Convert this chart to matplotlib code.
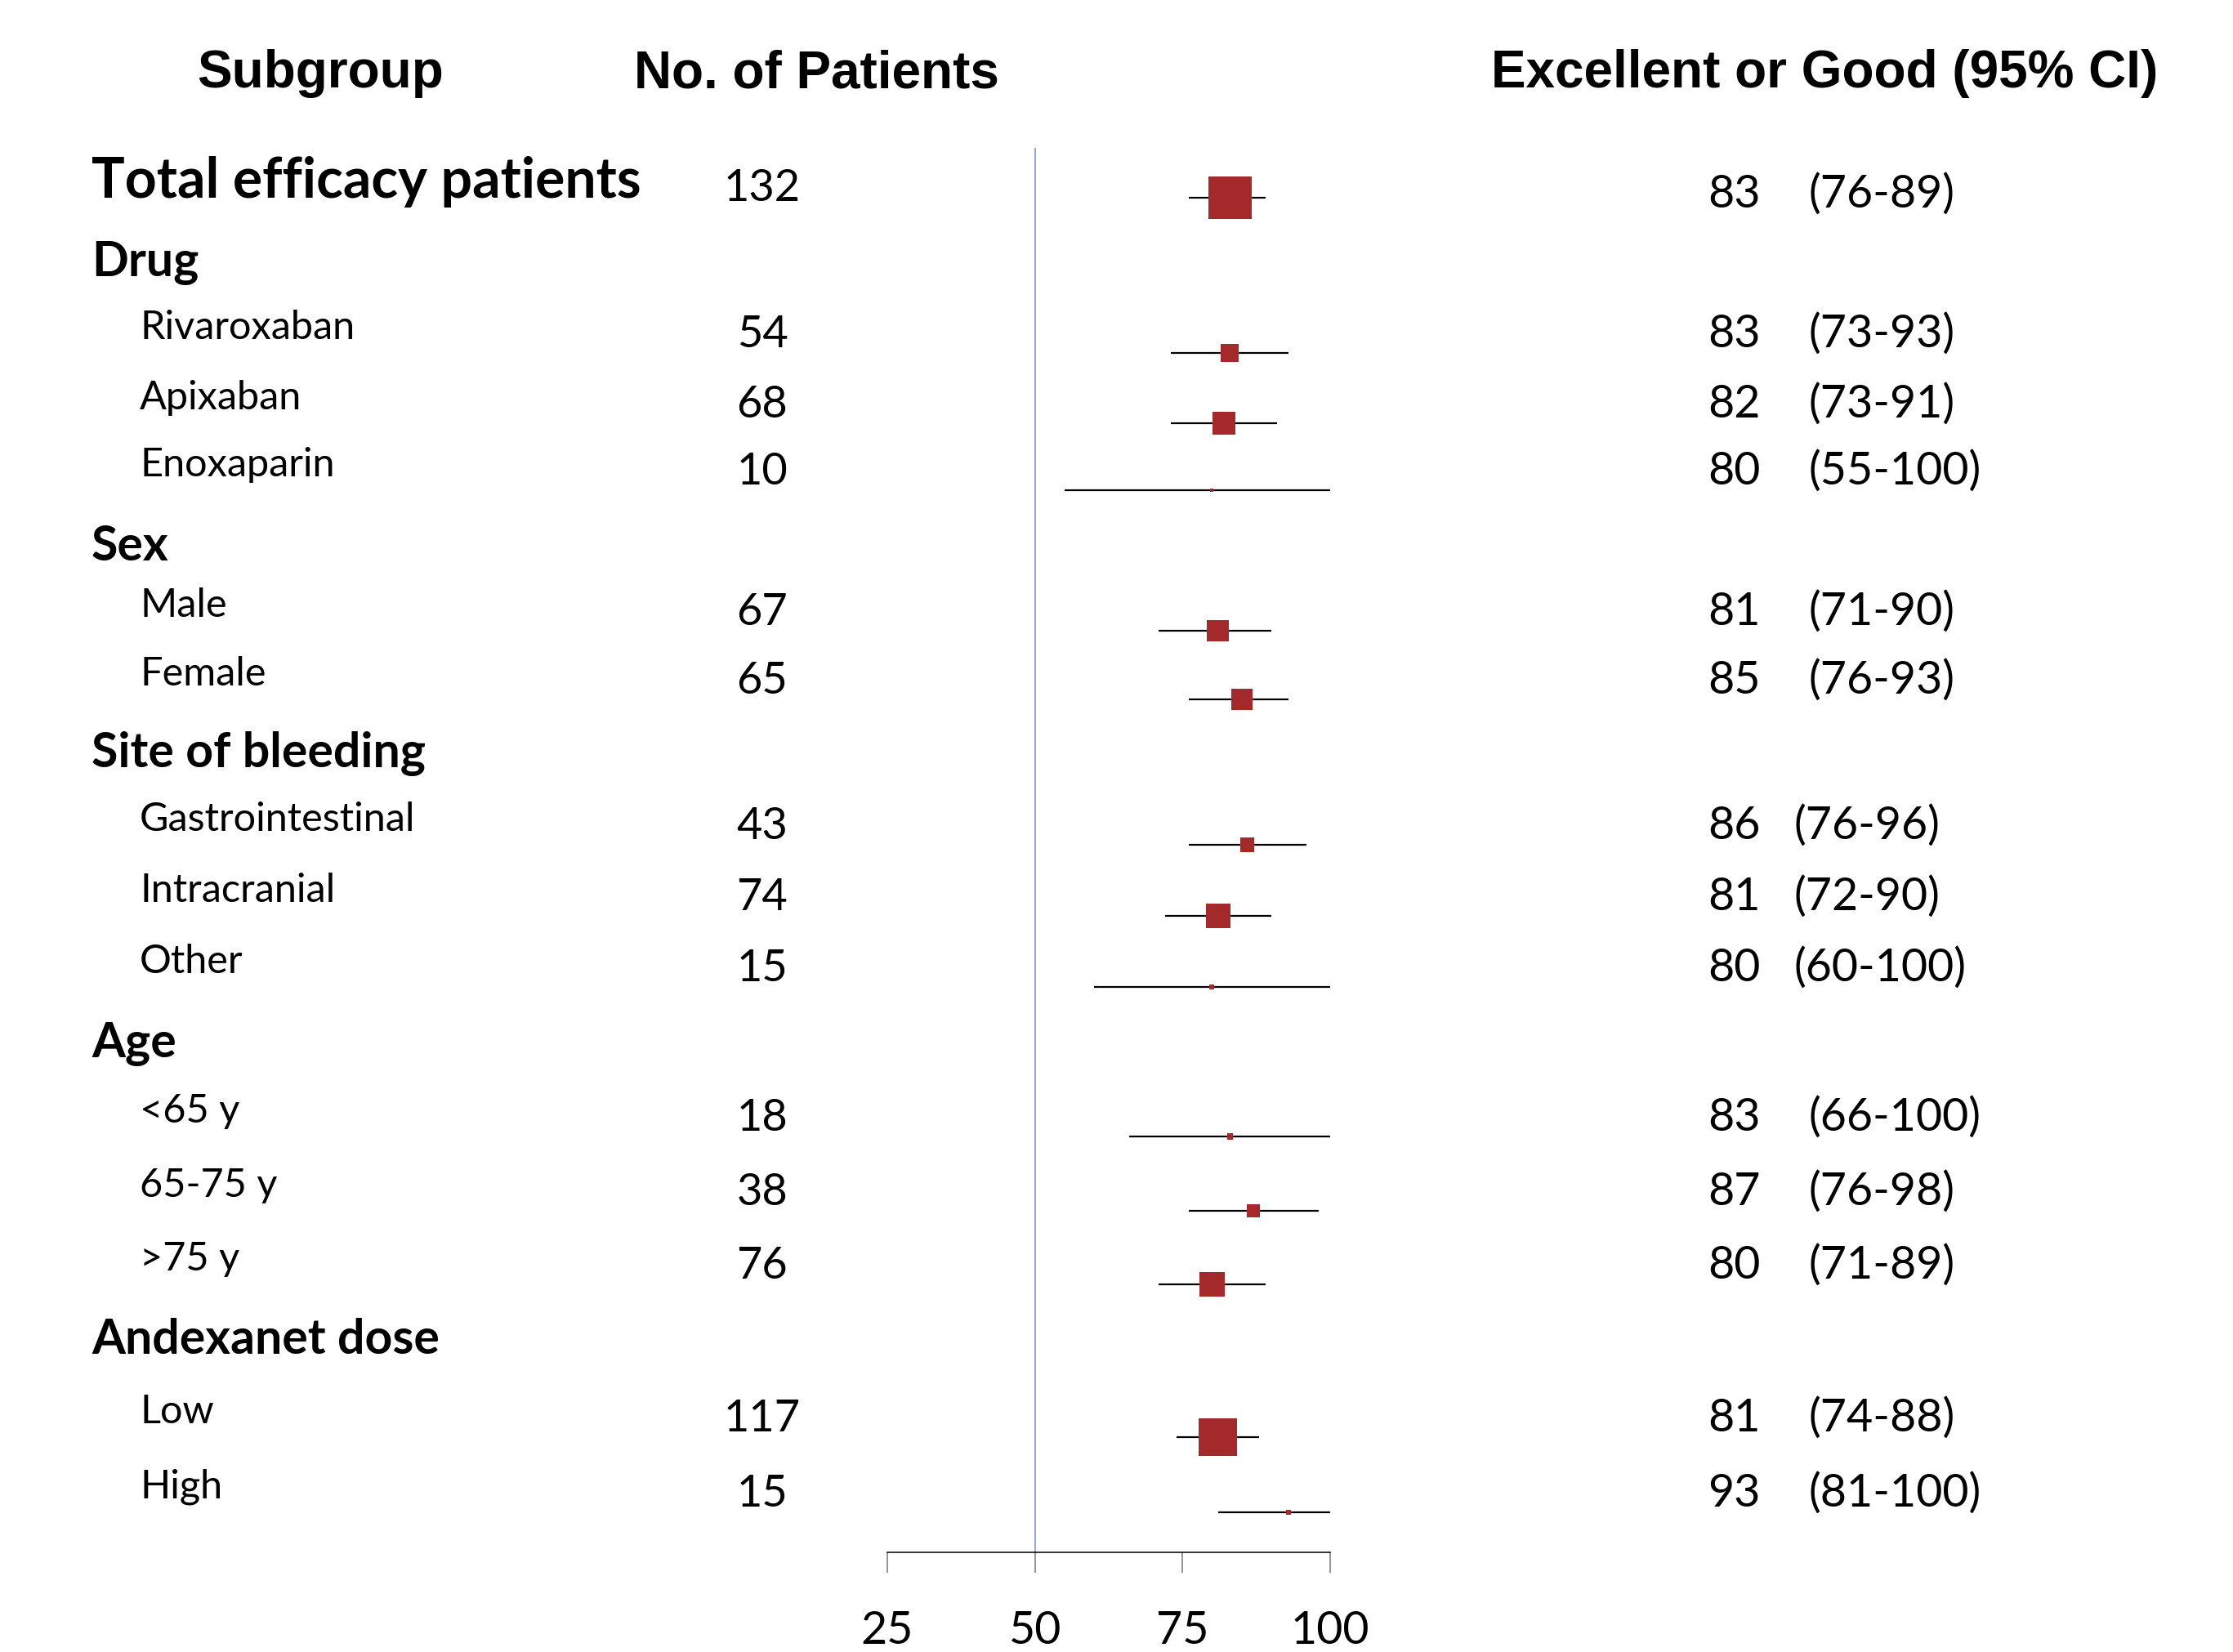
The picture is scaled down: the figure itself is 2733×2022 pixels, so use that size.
import matplotlib
matplotlib.use("Agg")
import matplotlib.pyplot as plt

# subgroup results: response rate (%) with 95% CI
subgroups = ['Total efficacy patients', 'Rivaroxaban', 'Apixaban', 'Enoxaparin',
             'Male', 'Female', 'Gastrointestinal', 'Intracranial', 'Other',
             '<65 y', '65-75 y', '>75 y', 'Low', 'High']
n_patients = [132, 54, 68, 10, 67, 65, 43, 74, 15, 18, 38, 76, 117, 15]
rate = [83, 83, 82, 80, 81, 85, 86, 81, 80, 83, 87, 80, 81, 93]
ci_low = [76, 73, 73, 55, 71, 76, 76, 72, 60, 66, 76, 71, 74, 81]
ci_high = [89, 93, 91, 100, 90, 93, 96, 90, 100, 100, 98, 89, 88, 100]
categories = ['Drug', 'Sex', 'Site of bleeding', 'Age', 'Andexanet dose']
xticks = [25, 50, 75, 100]

# layout (pixels from top of the figure)
W, H, dpi = 2733, 2022, 100
row_y = [242, 432, 518, 600, 772, 856, 1034, 1121, 1208, 1391, 1482, 1572, 1759, 1851]
cat_y = [338, 686, 939, 1294, 1657]
x25, px_unit = 1086, 7.227      # pixel of x=25 and pixels per percent
axis_y = 1900
tight_ci = [6, 7, 8]            # rows where the CI text sits a little closer

body = 'Lato'
head = 'Liberation Sans'
red = '#a3292a'


def fx(p):
    return p / W


def fy(p):
    return 1 - p / H


fig = plt.figure(figsize=(W / dpi, H / dpi), dpi=dpi)
fig.set_facecolor('white')
ax = fig.add_axes([0, 0, 1, 1])
ax.set_xlim(25 - x25 / px_unit, 25 + (W - x25) / px_unit)
ax.set_ylim(H, 0)
ax.patch.set_alpha(0)

for s in ['left', 'right', 'top']:
    ax.spines[s].set_visible(False)
ax.spines['bottom'].set_position(('data', axis_y))
ax.spines['bottom'].set_bounds(xticks[0], xticks[-1])
ax.spines['bottom'].set_linewidth(1.1)
ax.set_yticks([])
ax.set_xticks(xticks)
ax.set_xticklabels([str(t) for t in xticks], fontfamily=body, fontsize=40)
ax.tick_params(axis='x', direction='out', length=18, width=1.1, color='#777777', pad=33)

# reference line at 50%
ax.vlines(50, 181, axis_y, color='#7f9cf2', lw=1.3, zorder=1)

# confidence intervals and weighted squares
ax.hlines(row_y, ci_low, ci_high, color='black', lw=1.6, zorder=2)
sizes = [(0.4 * n * 72 / dpi) ** 2 for n in n_patients]
ax.scatter(rate, row_y, s=sizes, marker='s', color=red, linewidths=0, zorder=3)

# column headers
fig.text(fx(392), fy(107), 'Subgroup', ha='center', va='baseline',
         fontfamily=head, fontweight='bold', fontsize=46)
fig.text(fx(999), fy(107), 'No. of Patients', ha='center', va='baseline',
         fontfamily=head, fontweight='bold', fontsize=46)
fig.text(fx(2233), fy(107), 'Excellent or Good (95% CI)', ha='center', va='baseline',
         fontfamily=head, fontweight='bold', fontsize=46)

# category headings
for name, y in zip(categories, cat_y):
    fig.text(fx(112), fy(y), name, ha='left', va='baseline',
             fontfamily=body, fontweight='bold', fontsize=42.5)

# one text line per subgroup
for i, name in enumerate(subgroups):
    y = row_y[i]
    if i == 0:
        fig.text(fx(112), fy(y), name, ha='left', va='baseline',
                 fontfamily=body, fontweight='bold', fontsize=49)
        ny, vy = y + 4, y + 12
    else:
        fig.text(fx(171), fy(y - 17), name, ha='left', va='baseline',
                 fontfamily=body, fontsize=35)
        ny, vy = y - 7, y - 7
    fig.text(fx(933), fy(ny), str(n_patients[i]), ha='center', va='baseline',
             fontfamily=body, fontsize=39)
    fig.text(fx(2090), fy(vy), str(rate[i]), ha='left', va='baseline',
             fontfamily=body, fontsize=40)
    cx = 2196 if i in tight_ci else 2213
    fig.text(fx(cx), fy(vy), '(%d-%d)' % (ci_low[i], ci_high[i]), ha='left', va='baseline',
             fontfamily=body, fontsize=40)

fig.savefig('out.png', dpi=dpi, facecolor='white')
